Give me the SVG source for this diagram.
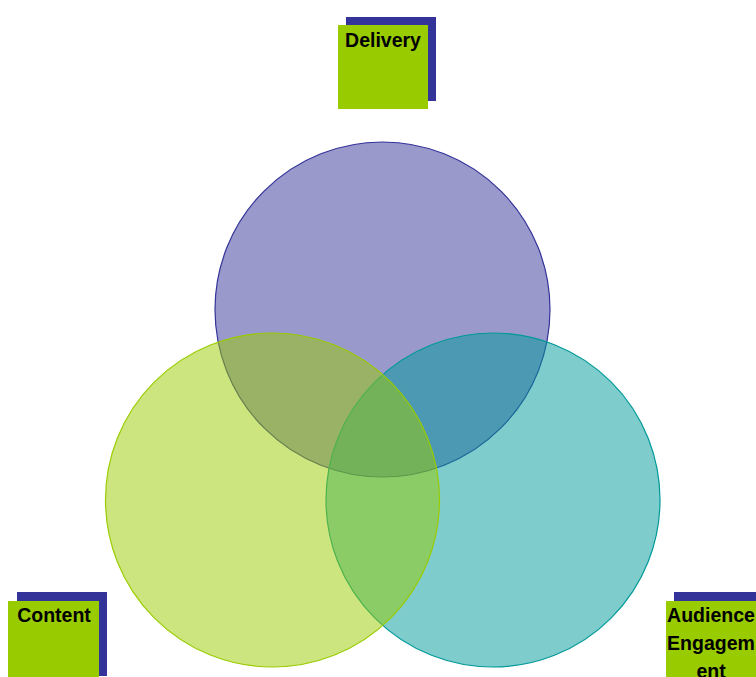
<svg xmlns="http://www.w3.org/2000/svg" width="756" height="677" viewBox="0 0 756 677">
  <style>
    .shadow { fill: #333399; }
    .tag { fill: #99cc00; }
    .label { font-family: "Liberation Sans", Arial, sans-serif; font-weight: bold; font-size: 19.5px; fill: #000000; text-anchor: middle; }
    .ring { stroke-width: 1.2; }
  </style>
  <rect width="756" height="677" fill="#ffffff"/>

  <!-- three overlapping circles -->
  <g id="venn">
    <g id="circle-delivery">
      <circle class="ring" cx="382.5" cy="309.5" r="167.5" fill="#333399" fill-opacity="0.5" stroke="#333399"/>
    </g>
    <g id="circle-audience">
      <circle class="ring" cx="493" cy="500" r="167" fill="#009999" fill-opacity="0.5" stroke="#009999"/>
    </g>
    <g id="circle-content">
      <circle class="ring" cx="272.5" cy="500" r="167" fill="#99cc00" fill-opacity="0.5" stroke="#99cc00"/>
    </g>
  </g>

  <!-- labels -->
  <g id="delivery">
    <rect class="shadow" x="346" y="17" width="90" height="84"/>
    <rect class="tag" x="338" y="25" width="90" height="84"/>
    <text class="label" x="383" y="47">Delivery</text>
  </g>
  <g id="content">
    <rect class="shadow" x="17" y="592" width="90" height="84"/>
    <rect class="tag" x="8" y="601" width="91" height="84"/>
    <text class="label" x="54" y="622">Content</text>
  </g>
  <g id="audience-engagement">
    <rect class="shadow" x="674" y="592" width="90" height="84"/>
    <rect class="tag" x="666" y="601" width="90" height="84"/>
    <text class="label" x="711" y="622">Audience</text>
    <text class="label" x="711" y="650">Engagem</text>
    <text class="label" x="711" y="678">ent</text>
  </g>
</svg>
